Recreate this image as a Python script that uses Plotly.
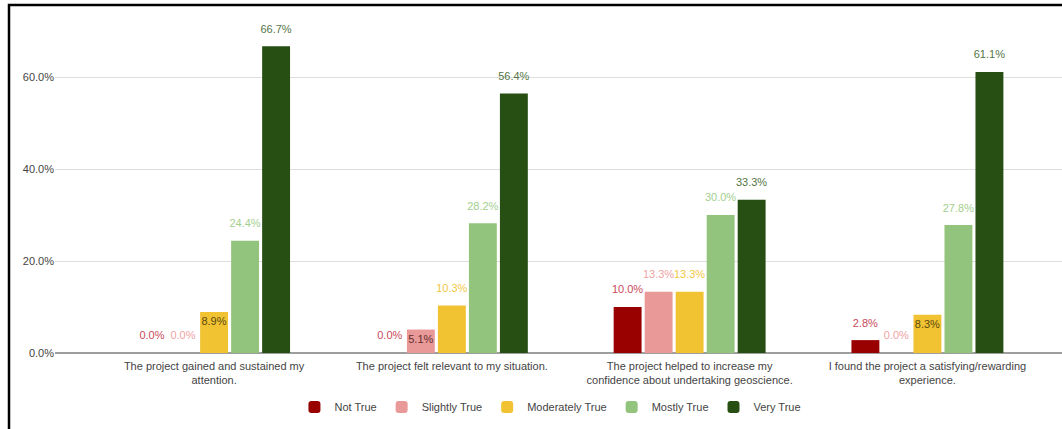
import plotly.graph_objects as go

categories = [
    "The project gained and sustained my<br>attention.",
    "The project felt relevant to my situation.",
    "The project helped to increase my<br>confidence about undertaking geoscience.",
    "I found the project a satisfying/rewarding<br>experience.",
]
series_names = ["Not True", "Slightly True", "Moderately True", "Mostly True", "Very True"]
not_true = [0.0, 0.0, 10.0, 2.8]
slightly_true = [0.0, 5.1, 13.3, 0.0]
moderately_true = [8.9, 10.3, 13.3, 8.3]
mostly_true = [24.4, 28.2, 30.0, 27.8]
very_true = [66.7, 56.4, 33.3, 61.1]
y_ticks = [0, 20, 40, 60]
y_tick_labels = ["0.0%", "20.0%", "40.0%", "60.0%"]

series_values = [not_true, slightly_true, moderately_true, mostly_true, very_true]

# styles
bar_colors = ["#990000", "#ea9999", "#f1c232", "#93c47d", "#274e13"]
label_colors = ["#c94a5c", "#f0a3a3", "#f2c744", "#a3cf8f", "#557547"]
inside_label_colors = ["#5a1a1a", "#5e2e2e", "#5c4a0c", "#2e4a20", "#ffffff"]
inside_labels = {(1, 1), (2, 0), (2, 3)}  # (series index, category index)
LABEL_LIFT = 1.85  # extra gap (axis units) between bar top and its outside label

FONT = "Arial, Liberation Sans, sans-serif"
W, H = 1062, 429
L, R, T, B = 55, 0, 31, 76

xs = list(range(len(categories)))
fig = go.Figure()
for s, (name, vals) in enumerate(zip(series_names, series_values)):
    in_text = [f"{v:.1f}%" if (s, c) in inside_labels else "" for c, v in enumerate(vals)]
    out_text = ["" if (s, c) in inside_labels else f"{v:.1f}%" for c, v in enumerate(vals)]
    fig.add_trace(go.Bar(
        name=name, x=xs, y=vals, offsetgroup=str(s),
        marker=dict(color=bar_colors[s], line=dict(width=0)),
        text=in_text, textposition="inside", textangle=0, insidetextanchor="end",
        textfont=dict(family=FONT, size=11, color=inside_label_colors[s]),
        constraintext="none", cliponaxis=False, hoverinfo="skip",
    ))
for s, (name, vals) in enumerate(zip(series_names, series_values)):
    out_text = ["" if (s, c) in inside_labels else f"{v:.1f}%" for c, v in enumerate(vals)]
    fig.add_trace(go.Bar(
        name=name, x=xs, y=vals, base=[LABEL_LIFT] * len(vals), offsetgroup=str(s),
        marker=dict(color="rgba(0,0,0,0)", line=dict(width=0)),
        text=out_text, textposition="outside", textangle=0,
        textfont=dict(family=FONT, size=11, color=label_colors[s]),
        constraintext="none", cliponaxis=False, hoverinfo="skip", showlegend=False,
    ))

plot_w = W - L - R
plot_h = H - T - B

fig.update_layout(
    width=W, height=H,
    margin=dict(l=L, r=R, t=T, b=B),
    paper_bgcolor="white", plot_bgcolor="white",
    barmode="group", bargap=0.348, bargroupgap=0.1, barcornerradius=2,
    font=dict(family=FONT, size=11, color="#444444"),
    showlegend=True,
    legend=dict(orientation="h", x=0.492, xanchor="center", y=-(407 - (H - B)) / plot_h,
                yanchor="middle", font=dict(family=FONT, size=11, color="#444444"),
                traceorder="normal", itemsizing="constant"),
    xaxis=dict(
        tickmode="array", tickvals=xs, ticktext=categories,
        range=[-0.669, 3.566], showgrid=False, zeroline=False, showline=False,
        ticks="", ticklabelstandoff=5,
        tickfont=dict(family=FONT, size=11, color="#444444"), fixedrange=True,
    ),
    yaxis=dict(
        range=[0, 70], tickmode="array", tickvals=y_ticks, ticktext=y_tick_labels,
        showgrid=True, gridcolor="#dedede", gridwidth=1,
        zeroline=True, zerolinecolor="#9e9e9e", zerolinewidth=2,
        showline=False, ticks="", tickfont=dict(family=FONT, size=11, color="#444444"),
        fixedrange=True,
    ),
    shapes=[dict(
        type="rect", xref="paper", yref="paper",
        x0=(9 - L) / plot_w, x1=(W + 20 - L) / plot_w,
        y0=-(H + 20 - (H - B)) / plot_h, y1=1 + (T - 5) / plot_h,
        line=dict(color="black", width=2.5), fillcolor="rgba(0,0,0,0)", layer="above",
    )],
)

fig.write_html("out.html", config={"displayModeBar": False})
